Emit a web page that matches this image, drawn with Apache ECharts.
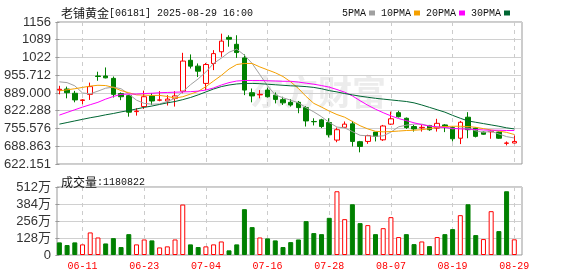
<!DOCTYPE html>
<html><head><meta charset="utf-8">
<script src="https://cdn.jsdelivr.net/npm/echarts@6/dist/echarts.min.js"></script>
<style>html,body{margin:0;padding:0;background:#fff}#c{width:578px;height:276px}</style>
</head><body><div id="c"></div>
<script>
const dates = ['06-06','06-09','06-10','06-11','06-12','06-13','06-16','06-17','06-18','06-19','06-20','06-23','06-24','06-25','06-26','06-27','06-30','07-02','07-03','07-04','07-07','07-08','07-09','07-10','07-11','07-14','07-15','07-16','07-17','07-18','07-21','07-22','07-23','07-24','07-25','07-28','07-29','07-30','07-31','08-01','08-04','08-05','08-06','08-07','08-08','08-11','08-12','08-13','08-14','08-15','08-18','08-19','08-20','08-21','08-22','08-25','08-26','08-27','08-28','08-29'];
const openP  = [900,904,888,861,884,953,953,944,887,879,819,838,878,862,859,869,896,1012,990,925,1000,1044,1098,1072,1021,890,882,900,881,864,854,854,834,782,788,778,712,760,773,706,707,742,713,772,815,794,763,758,767,757,769,759,719,798,757,742,743,742,700,701];
const closeP = [903,890,863,863,913,951,946,884,875,817,821,875,859,863,866,878,1009,990,971,996,1037,1084,1091,1041,900,878,884,875,865,852,844,834,784,781,763,732,751,772,707,688,729,726,765,792,800,759,754,760,751,775,763,717,779,751,726,734,745,719,701,707];
const lowP   = [884,869,854,847,863,935,944,872,862,800,804,829,844,858,842,838,888,981,949,900,975,1025,1063,1021,881,854,869,872,850,844,838,813,763,767,757,722,704,757,688,666,698,707,709,769,797,754,744,744,747,744,742,707,697,719,722,732,717,717,692,700];
const highP  = [916,913,897,866,928,969,985,951,891,882,832,898,889,896,881,896,1040,1034,1000,1002,1050,1112,1106,1106,1034,906,900,909,891,875,866,859,840,794,792,794,759,782,784,709,732,742,769,819,822,797,769,769,769,792,772,763,784,817,759,744,750,744,707,729];
const volume = [95,75,95,80,170,132,87,127,60,157,80,117,110,57,65,117,380,80,60,65,80,102,35,80,345,210,132,125,110,60,97,117,255,165,157,280,480,270,382,240,225,157,202,285,135,157,82,102,67,135,157,195,300,382,150,120,330,180,480,118.0822];
const volUp  = [0,0,0,1,1,1,0,0,0,0,1,1,0,1,1,1,1,0,0,1,1,1,0,0,0,0,1,0,0,0,0,0,0,0,0,0,1,1,0,0,1,0,1,1,1,0,0,1,0,1,0,0,1,0,0,1,1,0,0,1];
const ma5  = [931,928,916,889,886,896,907,911,905,885,862,850,847,848,857,869,894,920,942,968,1000,1020,1042,1054,1031,1000,958,916,882,871,862,852,834,818,800,778,761,758,744,730,728,726,728,742,762,768,772,772,765,760,761,754,757,757,747,741,745,735,725,720];
const ma10 = [897,901,905,910,915,918,917,910,898,890,882,881,880,880,876,870,875,885,895,913,934,955,979,996,1000,1000,987,976,965,951,931,906,876,850,836,821,808,798,782,766,754,745,743,744,746,748,749,751,755,760,763,764,764,763,760,755,750,746,741,733];
const ma20 = [806,816,826,836,845,854,866,876,884,885,885,887,888,890,891,892,893,894,896,900,908,919,928,934,936,936,936,935,934,933,933,930,926,922,917,911,902,892,878,860,843,828,815,803,793,785,777,770,765,762,759,756,754,753,752,750,749,749,748,748];
const ma30 = [772,778,784,790,796,801,807,812,818,823,829,835,840,846,852,857,864,872,882,893,904,913,919,923,925,925,924,922,920,918,916,915,913,910,905,898,893,887,882,877,873,869,866,863,860,857,852,844,835,826,817,805,794,784,779,774,769,764,758,754];
const priceTicks = [622.151,688.863,755.576,822.288,889.000,955.712,1022.424,1089.136,1155.847];
const priceTickLabels = ['622.151','688.863','755.576','822.288','889.000','955.712','1022','1089','1156'];
const volTicks = [0,128,256,384,512];
const volTickLabels = ['0','128万','256万','384万','512万'];
const labelIdx = [3,11,19,27,35,43,51,59];

const UP = '#ff0000', DOWN = '#008000';
const chart = echarts.init(document.getElementById('c'), null, {renderer:'canvas'});
const candleData = dates.map((d,i)=>[i, openP[i], closeP[i], lowP[i], highP[i]]);
const volData = dates.map((d,i)=>({value:[i, volume[i]], itemStyle: volUp[i] ? {color:'#fff', borderColor:UP, borderWidth:1} : {color:DOWN, borderColor:DOWN, borderWidth:1}}));
const line = (name, arr, color) => ({name, type:'line', xAxisIndex:0, yAxisIndex:0, data: arr.map((v,i)=>[i,v]), symbol:'none', showSymbol:false, lineStyle:{width:1, color}, itemStyle:{color}, z:3});
const findLabel = (vals, labels, v) => { for (let k=0;k<vals.length;k++) if (Math.abs(vals[k]-v)<1e-3) return labels[k]; return ''; };
const axisFont = {fontFamily:'"Liberation Sans","Noto Sans CJK SC",sans-serif', fontSize:13, color:'#333'};
const richT = {a:{fontFamily:'"Noto Sans CJK SC"', fontSize:12, fontWeight:'normal', color:'#111'}, b:{fontFamily:'"Liberation Mono"', fontSize:10, fontWeight:'normal', color:'#111'}};

chart.setOption({
  animation:false,
  backgroundColor:'#fff',
  title:[
    {left:56, top:2, text:'{a|老铺黄金}{b|[06181] 2025-08-29 16:00}', textStyle:{fontWeight:'normal', rich:richT}},
    {left:56, top:171, text:'{a|成交量}{b|:1180822}', textStyle:{fontWeight:'normal', rich:richT}}
  ],
  legend:{data:['5PMA','10PMA','20PMA','30PMA'], left:337, top:3, icon:'rect', itemWidth:6, itemHeight:5, itemGap:6, align:'right', selectedMode:false,
    textStyle:{fontFamily:'"Liberation Mono"', fontSize:10, color:'#111', padding:[0,-2,0,0]}},
  graphic:[{type:'text', left:250, top:75, z:0, silent:true, style:{text:'东方财富', font:'bold 34px "Noto Sans CJK SC"', fill:'#ececec'}}],
  grid:[
    {left:57, right:56, top:22, height:142, show:true, borderColor:'#999', borderWidth:1, backgroundColor:'transparent'},
    {left:57, right:56, top:187, height:68, show:true, borderColor:'#999', borderWidth:1, backgroundColor:'transparent'}
  ],
  xAxis:[
    {type:'value', gridIndex:0, min:-0.31, max:60, axisLine:{show:false}, axisTick:{show:false, customValues:labelIdx}, axisLabel:{show:false, customValues:labelIdx},
     splitLine:{show:true, lineStyle:{color:'#ccc', type:[4,4]}}},
    {type:'value', gridIndex:1, min:-0.31, max:60, axisLine:{show:false}, axisTick:{show:false, customValues:labelIdx},
     axisLabel:{show:true, customValues:labelIdx, formatter:v=>dates[Math.round(v)], color:'#ff0000', fontFamily:'"Liberation Mono"', fontSize:10, margin:6},
     splitLine:{show:true, lineStyle:{color:'#ccc', type:[4,4]}}}
  ],
  yAxis:[
    {type:'value', gridIndex:0, min:priceTicks[0], max:priceTicks[priceTicks.length-1], axisLine:{show:false},
     axisTick:{show:true, length:4, customValues:priceTicks, lineStyle:{color:'#999'}},
     axisLabel:Object.assign({customValues:priceTicks, margin:6, formatter:v=>findLabel(priceTicks, priceTickLabels, v)}, axisFont),
     splitLine:{show:true, lineStyle:{color:'#d0d0d0'}}},
    {type:'value', gridIndex:1, min:volTicks[0], max:volTicks[volTicks.length-1], axisLine:{show:false},
     axisTick:{show:true, length:4, customValues:volTicks, lineStyle:{color:'#999'}},
     axisLabel:Object.assign({customValues:volTicks, margin:6, formatter:v=>findLabel(volTicks, volTickLabels, v)}, axisFont),
     splitLine:{show:true, lineStyle:{color:'#d0d0d0'}}}
  ],
  series:[
    {type:'candlestick', name:'K', xAxisIndex:0, yAxisIndex:0, data:candleData, encode:{x:0, y:[1,2,3,4]}, barWidth:5,
     itemStyle:{color:'#fff', color0:DOWN, borderColor:UP, borderColor0:DOWN, borderWidth:1}, z:2},
    line('5PMA', ma5, '#a0a0a0'),
    line('10PMA', ma10, '#f5a000'),
    line('20PMA', ma20, '#ff00ff'),
    line('30PMA', ma30, '#006633'),
    {type:'bar', name:'VOL', xAxisIndex:1, yAxisIndex:1, data:volData, barWidth:5}
  ]
});
</script></body></html>
